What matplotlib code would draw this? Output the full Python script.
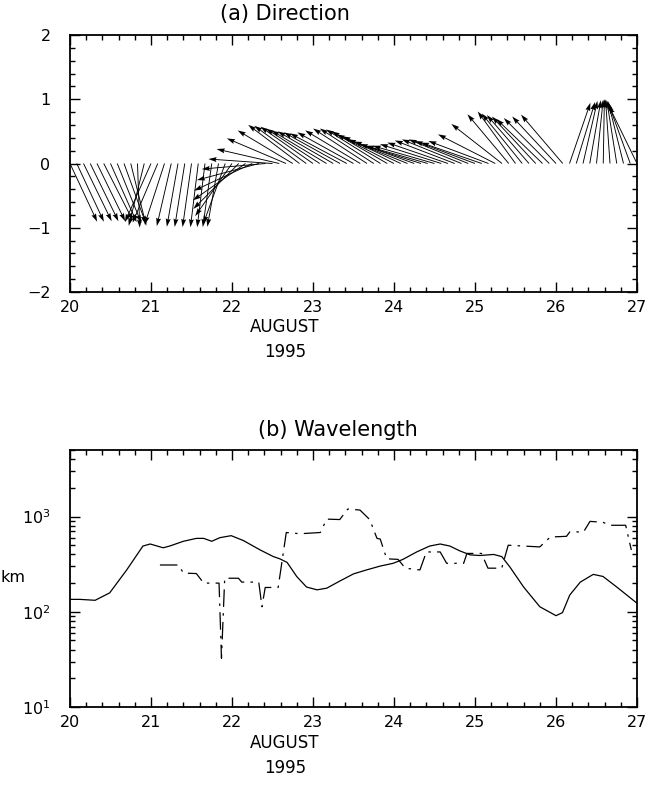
import numpy as np
import matplotlib
matplotlib.use("Agg")
import matplotlib.pyplot as plt
from matplotlib.ticker import MultipleLocator, LogLocator, NullFormatter

plt.rcParams['font.family'] = ['DejaVu Sans']

# wave direction, one vector every 2 hours from 20 Aug 00 UT to 27 Aug 00 UT
hours = np.arange(0, 170, 2)
dir_deg = [-65, -65, -64, -64, -64, -63, -66, -68, -70, -76,
           -88, -104, -114, -113, -108, -103, -100, -99, -98, -97,
           -97, -98, -100, -110, -125, -135, -145, -155, -165, -175,
           176, 167, 157, 149, 143, 144, 145, 147, 149, 150,
           151, 152, 151, 149, 147, 147, 148, 150, 153, 155,
           158, 160, 162.5, 164, 164, 162.5, 161, 159, 158, 158,
           159.5, 161, 159.5, 153, 142, 130, 126, 129, 131, 133,
           136, 135, 133, 130.5, 71, 73, 77, 80, 84, 89,
           94, 99, 104, 110, 116]

# wavelength (km), solid curve
wl_day = [20.0, 20.12, 20.31, 20.49, 20.70, 20.90, 20.99, 21.15, 21.23, 21.40,
          21.56, 21.65, 21.75, 21.85, 21.99, 22.14, 22.35, 22.51, 22.59, 22.68,
          22.80, 22.92, 23.05, 23.17, 23.33, 23.50, 23.66, 23.83, 23.99, 24.11,
          24.28, 24.44, 24.57, 24.69, 24.81, 24.94, 25.06, 25.23, 25.33, 25.43,
          25.60, 25.80, 26.00, 26.08, 26.17, 26.30, 26.46, 26.58, 26.75, 27.0]
wl_km = [135, 135, 132, 158, 275, 490, 515, 470, 490, 550,
         590, 590, 550, 600, 630, 560, 445, 380, 360, 330,
         234, 182, 170, 177, 210, 250, 275, 302, 323, 355,
         425, 490, 515, 490, 437, 396, 390, 400, 380, 296,
         182, 113, 91, 98, 150, 205, 247, 235, 182, 123]

# second estimate, dash-dot curve
wl2_day = [21.11, 21.34, 21.40, 21.56, 21.65, 21.81, 21.84, 21.87, 21.91, 22.08,
           22.12, 22.33, 22.37, 22.41, 22.57, 22.67, 22.84, 23.09, 23.17, 23.33,
           23.43, 23.58, 23.70, 23.79, 23.83, 23.91, 24.05, 24.14, 24.32, 24.40,
           24.57, 24.65, 24.86, 24.90, 25.08, 25.16, 25.33, 25.41, 25.80, 25.93,
           26.13, 26.17, 26.34, 26.42, 26.58, 26.67, 26.86, 26.93]
wl2_km = [310, 310, 255, 252, 200, 200, 200, 32.5, 225, 225,
          205, 205, 113, 180, 180, 680, 660, 680, 940, 930,
          1200, 1170, 930, 590, 580, 360, 355, 287, 275, 425,
          425, 323, 323, 410, 410, 287, 287, 500, 480, 610,
          620, 690, 690, 890, 870, 810, 810, 445]

W, H = 647, 785
fig = plt.figure(figsize=(W / 100, H / 100), dpi=100)

def box(l, t, r, b):
    return [l / W, 1 - b / H, (r - l) / W, (b - t) / H]

ax1 = fig.add_axes(box(70, 35, 637, 292))
ax2 = fig.add_axes(box(70, 450, 637, 707))

# (a) direction vectors, unit length, drawn from the time axis
t = 20 + hours / 24.0
th = np.deg2rad(dir_deg)
ax1.quiver(t, np.zeros_like(t), np.cos(th), np.sin(th), angles='uv',
           scale_units='y', scale=1, pivot='tail', width=0.0016,
           headwidth=5.5, headlength=9, headaxislength=8, color='k')
ax1.set_xlim(20, 27)
ax1.set_ylim(-2, 2)
ax1.yaxis.set_major_locator(MultipleLocator(1))
ax1.yaxis.set_minor_locator(MultipleLocator(0.2))

# (b) wavelength on log scale
ax2.semilogy(wl_day, wl_km, color='k', lw=0.9)
ax2.semilogy(wl2_day, wl2_km, color='k', lw=0.9, dashes=(14, 5, 2, 5))
ax2.set_xlim(20, 27)
ax2.set_ylim(10, 5000)
ax2.yaxis.set_major_locator(LogLocator(base=10, numticks=10))
ax2.yaxis.set_minor_locator(LogLocator(base=10, subs=np.arange(2, 10), numticks=10))
ax2.yaxis.set_minor_formatter(NullFormatter())

for ax in (ax1, ax2):
    ax.xaxis.set_major_locator(MultipleLocator(1))
    ax.xaxis.set_minor_locator(MultipleLocator(0.2))
    ax.tick_params(which='both', direction='in', top=True, right=True,
                   width=1, labelsize=11.5)
    ax.tick_params(which='major', length=7)
    ax.tick_params(which='minor', length=3.5)
    ax.tick_params(axis='y', pad=14)
    ax.tick_params(axis='x', pad=6)
    for s in ax.spines.values():
        s.set_linewidth(1.3)

fig.text(285 / W, 1 - 14 / H, '(a) Direction', ha='center', va='center', fontsize=15)
fig.text(338 / W, 1 - 430 / H, '(b) Wavelength', ha='center', va='center', fontsize=15)
for yy in (327, 743):
    fig.text(285 / W, 1 - yy / H, 'AUGUST', ha='center', va='center', fontsize=12)
for yy in (352, 768):
    fig.text(285 / W, 1 - yy / H, '1995', ha='center', va='center', fontsize=12)
fig.text(13 / W, 1 - 578 / H, 'km', ha='center', va='center', fontsize=11.5)

fig.savefig('out.png', dpi=100)
